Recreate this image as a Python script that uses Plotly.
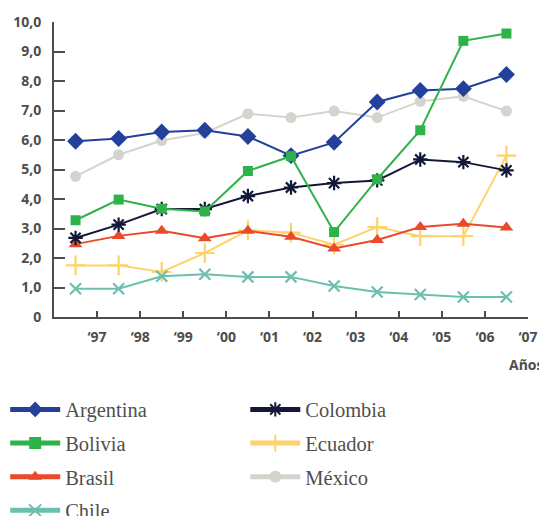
import plotly.graph_objects as go

years = [1997, 1998, 1999, 2000, 2001, 2002, 2003, 2004, 2005, 2006, 2007]
tick_labels = ["‘97", "‘98", "‘99", "‘00", "‘01", "‘02", "‘03", "‘04", "‘05", "‘06", "‘07"]
y_ticks = [0, 1, 2, 3, 4, 5, 6, 7, 8, 9, 10]
y_tick_labels = ["0", "1,0", "2,0", "3,0", "4,0", "5,0", "6,0", "7,0", "8,0", "9,0", "10,0"]

argentina = [5.96, 6.05, 6.27, 6.33, 6.12, 5.47, 5.92, 7.29, 7.68, 7.74, 8.22]
bolivia = [3.28, 3.98, 3.67, 3.58, 4.95, 5.45, 2.88, 4.67, 6.33, 9.36, 9.61]
brasil = [2.47, 2.75, 2.92, 2.67, 2.92, 2.72, 2.32, 2.61, 3.05, 3.16, 3.03]
chile = [0.96, 0.96, 1.38, 1.45, 1.36, 1.36, 1.05, 0.85, 0.76, 0.68, 0.68]
colombia = [2.68, 3.13, 3.66, 3.66, 4.10, 4.39, 4.54, 4.63, 5.34, 5.25, 4.97]
ecuador = [1.75, 1.75, 1.53, 2.17, 2.94, 2.86, 2.45, 3.05, 2.74, 2.74, 5.47]
mexico = [4.77, 5.50, 5.98, 6.24, 6.89, 6.76, 6.98, 6.76, 7.31, 7.48, 6.98]

series = [
    ("Argentina", argentina, "#23409a", "diamond", 13, "legend"),
    ("Bolivia", bolivia, "#2db34a", "square", 10, "legend"),
    ("Brasil", brasil, "#ea4a2a", "triangle-up", 12, "legend"),
    ("Chile", chile, "#6cbfae", "x-thin-open", 11, "legend"),
    ("Colombia", colombia, "#141838", "asterisk-open", 12, "legend2"),
    ("Ecuador", ecuador, "#fdd36b", "cross-thin-open", 14, "legend2"),
    ("México", mexico, "#d4d4ce", "circle", 11, "legend2"),
]

draw_order = ["México", "Ecuador", "Chile", "Brasil", "Colombia", "Argentina", "Bolivia"]
lookup = {s[0]: s for s in series}
rank = {s[0]: i for i, s in enumerate(series)}

fig = go.Figure()
for name in draw_order:
    _, vals, color, sym, size, leg = lookup[name]
    open_sym = sym.endswith("-open")
    fig.add_trace(go.Scatter(
        x=years, y=vals, name=name, mode="lines+markers",
        line=dict(color=color, width=2),
        marker=dict(symbol=sym, size=size, color=color,
                    line=dict(color=color, width=2.2 if open_sym else 0)),
        legend=leg, legendrank=rank[name], legendgroup=name,
    ))

axis_color = "#4d4d4d"
tick_font = dict(family="Open Sans", size=14, color=axis_color, weight="bold")
legend_font = dict(family="Liberation Serif", size=20.5, color="#505050")

fig.update_layout(
    width=539, height=508,
    margin=dict(l=46, r=19, t=14, b=199, autoexpand=False),
    paper_bgcolor="white", plot_bgcolor="white",
    showlegend=True,
    legend=dict(x=-0.103, y=-0.246, xanchor="left", yanchor="top",
                font=legend_font, itemwidth=50, tracegroupgap=4,
                itemsizing="constant", bgcolor="rgba(0,0,0,0)"),
    legend2=dict(x=0.4036, y=-0.246, xanchor="left", yanchor="top",
                 font=legend_font, itemwidth=50, tracegroupgap=4,
                 itemsizing="constant", bgcolor="rgba(0,0,0,0)"),
    annotations=[dict(text="Años", xref="paper", yref="paper", x=1.038, y=-0.122,
                      xanchor="right", yanchor="top", showarrow=False,
                      font=tick_font)],
)

fig.update_xaxes(
    range=[years[0] - 0.5, years[-1] + 0.5],
    tickvals=[y + 0.5 for y in years], ticktext=tick_labels,
    showgrid=False, zeroline=False, automargin=False,
    showline=True, linecolor=axis_color, linewidth=2,
    ticks="inside", ticklen=6, tickwidth=2, tickcolor=axis_color,
    tickfont=tick_font, ticklabelstandoff=6,
)
fig.update_yaxes(
    range=[0, 10],
    tickvals=y_ticks, ticktext=y_tick_labels,
    showgrid=False, zeroline=False, automargin=False,
    showline=True, linecolor=axis_color, linewidth=2,
    ticks="inside", ticklen=11, tickwidth=2, tickcolor=axis_color,
    tickfont=tick_font, ticklabelstandoff=8,
)

fig.write_html("out.html")
